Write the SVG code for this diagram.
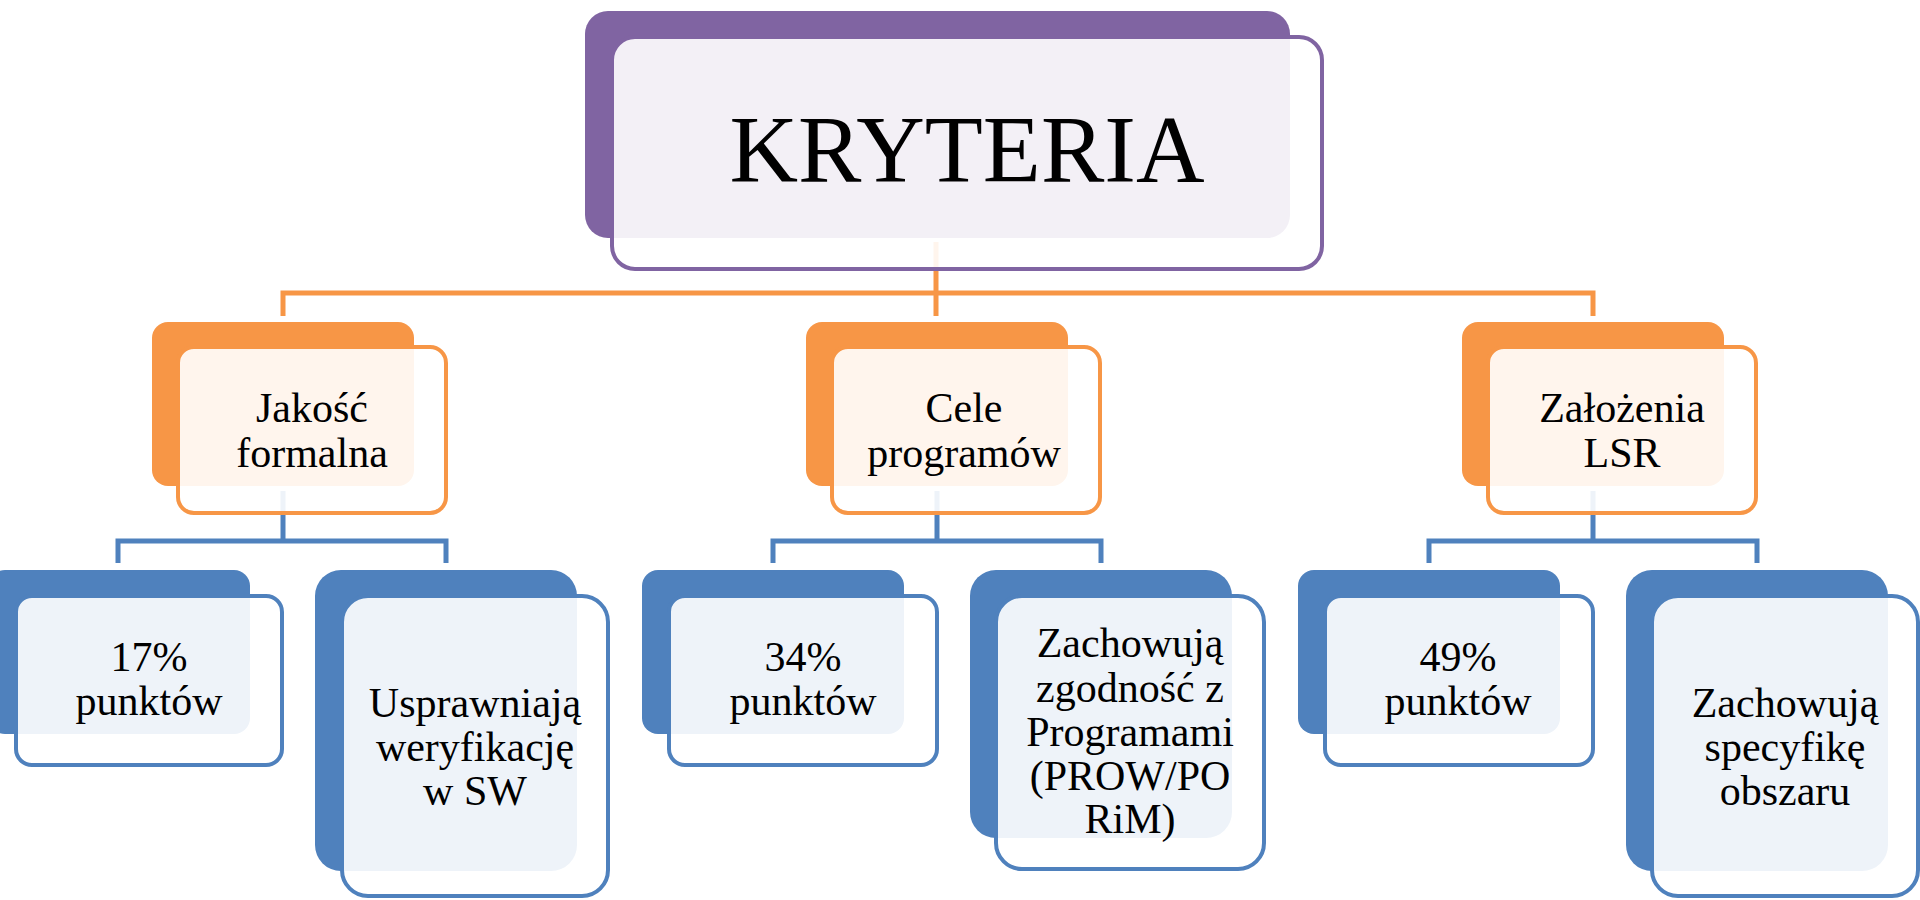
<svg xmlns="http://www.w3.org/2000/svg" width="1920" height="900" viewBox="0 0 1920 900">
<style>
.t{font-family:"Liberation Serif","Times New Roman",serif;fill:#000;text-anchor:middle}
.c{font-size:42px}
.pb{fill:#8064A2}
.pf{fill:#fff;fill-opacity:0.9;stroke:#8064A2;stroke-width:4}
.ob{fill:#F79646}
.of{fill:#fff;fill-opacity:0.9;stroke:#F79646;stroke-width:4}
.bb{fill:#4F81BD}
.bf{fill:#fff;fill-opacity:0.9;stroke:#4F81BD;stroke-width:4}
.lo{fill:none;stroke:#F79646;stroke-width:5}
.lb{fill:none;stroke:#4F81BD;stroke-width:5}
</style>
<rect width="1920" height="900" fill="#fff"/>
<g id="connectors">
<path class="lo" d="M936 242V293M283 316V293H1593V316M936 293V316"/>
<path class="lb" d="M283 491V541M118 563V541H446V563"/>
<path class="lb" d="M937 491V541M773 563V541H1101V563"/>
<path class="lb" d="M1593 491V541M1429 563V541H1757V563"/>
</g>
<g id="kryteria">
<rect class="pb" x="585" y="11" width="705" height="227" rx="23"/>
<rect class="pf" x="612" y="37" width="710" height="232" rx="23"/>
<text class="t" x="967" y="182" font-size="95">KRYTERIA</text>
</g>
<g id="jakosc">
<rect class="ob" x="152" y="322" width="262" height="164" rx="16"/>
<rect class="of" x="178" y="347" width="268" height="166" rx="16"/>
<text class="t c" x="312" y="421.7">Jakość</text>
<text class="t c" x="312" y="466.7">formalna</text>
</g>
<g id="cele">
<rect class="ob" x="806" y="322" width="262" height="164" rx="16"/>
<rect class="of" x="832" y="347" width="268" height="166" rx="16"/>
<text class="t c" x="964" y="421.7">Cele</text>
<text class="t c" x="964" y="466.7">programów</text>
</g>
<g id="zalozenia">
<rect class="ob" x="1462" y="322" width="262" height="164" rx="16"/>
<rect class="of" x="1488" y="347" width="268" height="166" rx="16"/>
<text class="t c" x="1622" y="421.7">Założenia</text>
<text class="t c" x="1622" y="466.7">LSR</text>
</g>
<g id="p17">
<rect class="bb" x="-11" y="570" width="261" height="164" rx="16"/>
<rect class="bf" x="16" y="596" width="266" height="169" rx="16"/>
<text class="t c" x="149" y="670.7">17%</text>
<text class="t c" x="149" y="715">punktów</text>
</g>
<g id="usprawniaja">
<rect class="bb" x="315" y="570" width="262" height="301" rx="26"/>
<rect class="bf" x="342" y="596" width="266" height="300" rx="26"/>
<text class="t c" x="475" y="716.7">Usprawniają</text>
<text class="t c" x="475" y="760.7">weryfikację</text>
<text class="t c" x="475" y="805">w SW</text>
</g>
<g id="p34">
<rect class="bb" x="642" y="570" width="262" height="164" rx="16"/>
<rect class="bf" x="669" y="596" width="268" height="169" rx="16"/>
<text class="t c" x="803" y="670.7">34%</text>
<text class="t c" x="803" y="715">punktów</text>
</g>
<g id="zgodnosc">
<rect class="bb" x="970" y="570" width="262" height="268" rx="26"/>
<rect class="bf" x="996" y="596" width="268" height="273" rx="26"/>
<text class="t c" x="1130" y="656.7">Zachowują</text>
<text class="t c" x="1130" y="701.7">zgodność z</text>
<text class="t c" x="1130" y="745.7">Programami</text>
<text class="t c" x="1130" y="790">(PROW/PO</text>
<text class="t c" x="1130" y="833.3">RiM)</text>
</g>
<g id="p49">
<rect class="bb" x="1298" y="570" width="262" height="164" rx="16"/>
<rect class="bf" x="1325" y="596" width="268" height="169" rx="16"/>
<text class="t c" x="1458" y="670.7">49%</text>
<text class="t c" x="1458" y="715">punktów</text>
</g>
<g id="specyfika">
<rect class="bb" x="1626" y="570" width="262" height="301" rx="26"/>
<rect class="bf" x="1652" y="596" width="266" height="300" rx="26"/>
<text class="t c" x="1785" y="716.7">Zachowują</text>
<text class="t c" x="1785" y="760.7">specyfikę</text>
<text class="t c" x="1785" y="805">obszaru</text>
</g>
</svg>
